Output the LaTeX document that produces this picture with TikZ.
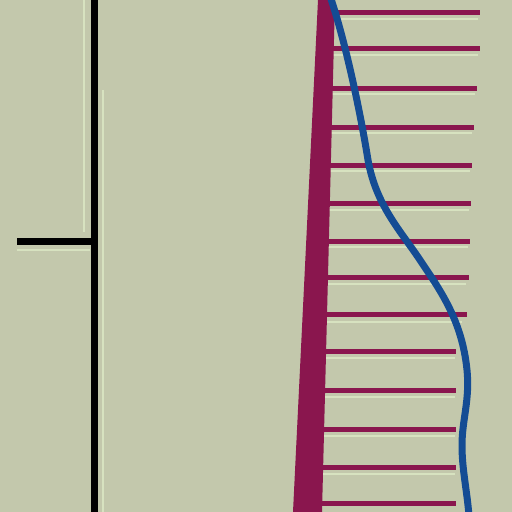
\documentclass[tikz,border=0pt]{standalone}
\definecolor{bg}{RGB}{195,200,172}
\definecolor{pale}{RGB}{215,226,192}
\definecolor{crim}{RGB}{138,22,78}
\definecolor{bluel}{RGB}{20,76,148}
\tikzset{
  bar/.style={draw=crim, line width=5pt},
  barshadow/.style={draw=pale, line width=2.5pt},
  stem/.style={draw=black, line width=7pt},
  curve/.style={draw=bluel, line width=7pt, line cap=round},
}
\begin{document}
\begin{tikzpicture}[x=1pt,y=-1pt]
\useasboundingbox (0,0) rectangle (512,512);
\fill[bg] (0,0) rectangle (512,512);
% pale highlights by the black stem
\draw[pale, line width=2pt] (84,0) -- (84,232);
\draw[pale, line width=2pt] (103,90) -- (103,512);
\draw[pale, line width=2.5pt] (17,250) -- (90,250);
% black stem and stub
\draw[stem] (94,0) -- (94,512);
\draw[stem] (17,241) -- (94,241);
% light shadows under bars
\foreach \y/\e in {19/478,55/478,94/475,133/472,171/470,210/469,247/468,284/466,322/462,358/455,397/455,436/455,474/455}{
  \draw[barshadow] ({330-0.04*\y},\y) -- (\e,\y);
}
% bars
\foreach \y/\e in {12/480,48/480,88/477,127/474,165/472,203/471,241/470,277/469,314/467,351/456,390/456,429/456,467/456,503/456}{
  \draw[bar] ({322-0.049*\y},\y) -- (\e,\y);
}
% tapered band
\fill[crim] (318,0) -- (335,0) -- (322,512) -- (293,512) -- cycle;
% blue curve
\draw[curve] (330,-4) .. controls (345,40) and (360,110) .. (368,160)
  .. controls (376,205) and (400,230) .. (420,260)
  .. controls (440,290) and (462,320) .. (467,370)
  .. controls (470,400) and (462,420) .. (462,445)
  .. controls (462,470) and (467,490) .. (469,516);
\end{tikzpicture}
\end{document}
